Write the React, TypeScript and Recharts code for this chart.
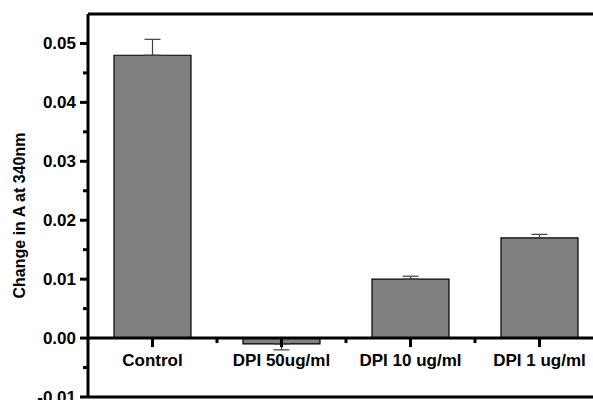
import React from 'react';
import {
  ComposedChart,
  Bar,
  ErrorBar,
  Scatter,
  XAxis,
  YAxis,
  ReferenceLine,
} from 'recharts';

const categories = ['Control', 'DPI 50ug/ml', 'DPI 10 ug/ml', 'DPI 1 ug/ml'];
const changeA = [0.048, -0.001, 0.01, 0.017];
const errUp = [0.0027, 0, 0.0005, 0.0006];
const errDown = [0, 0.001, 0, 0];

const yTicks = [-0.01, 0, 0.01, 0.02, 0.03, 0.04, 0.05];
const yMinorTicks = [-0.005, 0.005, 0.015, 0.025, 0.035, 0.045];
const yDomain = [-0.01, 0.055];
// edges between the category bands, on a 0..4 index scale
const bandEdges = [1, 2, 3];

const data = categories.map((name, i) => ({
  name,
  value: changeA[i],
  err: [errDown[i], errUp[i]],
  zero: 0,
}));

const edgeTicks = bandEdges.map((x) => ({ x, y: 0 }));
const yMinor = yMinorTicks.map((y) => ({ x: 0, y }));

const FONT = '"Liberation Sans", Arial, sans-serif';
const LINE = 3;

// major x tick + category name, hung off the zero line
const CategoryTick = (props: any) => {
  const { cx, cy, payload } = props;
  return (
    <g>
      <line x1={cx} y1={cy} x2={cx} y2={cy + 9} stroke="#000" strokeWidth={LINE} />
      <text
        x={cx}
        y={cy + 28}
        textAnchor="middle"
        fill="#000"
        fontSize={17}
        fontWeight="bold"
        fontFamily={FONT}
      >
        {payload.name}
      </text>
    </g>
  );
};

const EdgeTick = (props: any) => {
  const { cx, cy } = props;
  return <line x1={cx} y1={cy} x2={cx} y2={cy + 5} stroke="#000" strokeWidth={LINE} />;
};

const YMinorTick = (props: any) => {
  const { cx, cy } = props;
  return <line x1={cx - 5} y1={cy} x2={cx} y2={cy} stroke="#000" strokeWidth={LINE} />;
};

const YTitle = (props: any) => {
  const { viewBox } = props;
  const x = viewBox.x + 19;
  const y = viewBox.y + viewBox.height / 2 + 10;
  return (
    <text
      x={x}
      y={y}
      transform={`rotate(-90, ${x}, ${y})`}
      textAnchor="middle"
      dominantBaseline="central"
      fill="#000"
      fontSize={16}
      fontWeight="bold"
      fontFamily={FONT}
    >
      Change in A at 340nm
    </text>
  );
};

export default function App() {
  return (
    <div
      style={{
        position: 'absolute',
        left: 0,
        top: 0,
        width: 593,
        height: 400,
        overflow: 'hidden',
        background: '#fff',
      }}
    >
      <ComposedChart
        width={610}
        height={420}
        data={data}
        margin={{ top: 14, right: 6, left: 0, bottom: 23 }}
      >
        <XAxis dataKey="name" hide />
        <XAxis xAxisId="n" type="number" dataKey="x" domain={[0, 4]} hide />
        <YAxis
          domain={yDomain}
          ticks={yTicks}
          width={88}
          tickSize={8}
          tickMargin={4}
          interval={0}
          allowDataOverflow
          tickFormatter={(v: number) => v.toFixed(2)}
          axisLine={{ stroke: '#000', strokeWidth: LINE }}
          tickLine={{ stroke: '#000', strokeWidth: LINE }}
          tick={{ fill: '#000', fontSize: 17, fontWeight: 'bold', fontFamily: FONT }}
          label={{ content: YTitle }}
        />
        <ReferenceLine y={0.055} stroke="#000" strokeWidth={LINE} />
        <ReferenceLine y={-0.01} stroke="#000" strokeWidth={LINE} />
        <Bar
          dataKey="value"
          fill="#808080"
          stroke="#000"
          strokeWidth={1.2}
          barSize={77}
          isAnimationActive={false}
        >
          <ErrorBar dataKey="err" width={8} stroke="#404040" strokeWidth={1.2} direction="y" />
        </Bar>
        <ReferenceLine y={0} stroke="#000" strokeWidth={LINE} />
        <Scatter dataKey="zero" shape={CategoryTick} isAnimationActive={false} />
        <Scatter
          xAxisId="n"
          data={edgeTicks}
          dataKey="y"
          shape={EdgeTick}
          isAnimationActive={false}
        />
        <Scatter
          xAxisId="n"
          data={yMinor}
          dataKey="y"
          shape={YMinorTick}
          isAnimationActive={false}
        />
      </ComposedChart>
    </div>
  );
}
